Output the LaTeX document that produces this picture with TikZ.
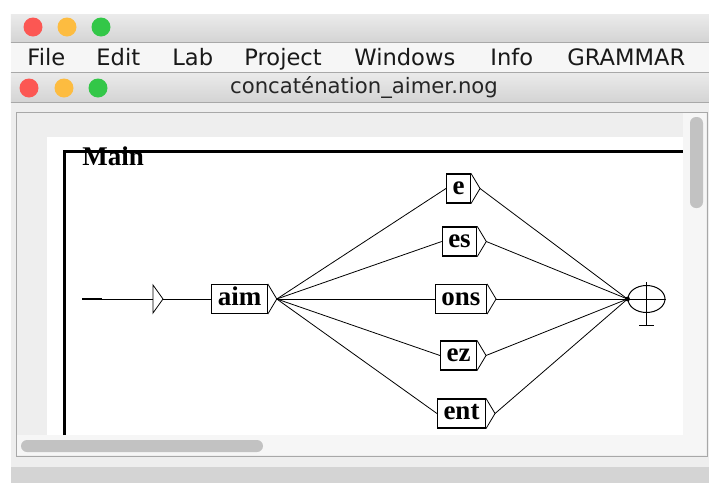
\documentclass[tikz,border=0pt]{standalone}
\usepackage{fontspec}
\newfontfamily\uifont{DejaVu Sans}
\newfontfamily\grafont{Liberation Serif}
\usetikzlibrary{positioning,calc,shapes.geometric}
\definecolor{barTop}{HTML}{EBEBEB}
\definecolor{barBot}{HTML}{D4D4D4}
\definecolor{menuBg}{HTML}{F6F6F6}
\definecolor{paneBg}{HTML}{EEEEEE}
\definecolor{edgeGray}{HTML}{A8A8A8}
\definecolor{thumbGray}{HTML}{C2C2C2}
\definecolor{macRed}{HTML}{FC5753}
\definecolor{macYellow}{HTML}{FDBC40}
\definecolor{macGreen}{HTML}{33C748}

\begin{document}
\begin{tikzpicture}[x=0.5pt,y=-0.5pt,
    menu/.style={anchor=base west,inner sep=0,text=black!90,font=\uifont\fontsize{11.3}{13}\selectfont},
    light/.style={circle,minimum size=9.5pt,inner sep=0},
    box/.style={draw,line width=0.55pt,inner xsep=3pt,inner ysep=0,minimum height=14.5pt,
        text height=9pt,text depth=2.8pt,font=\grafont\bfseries\fontsize{13.5}{15}\selectfont},
    wire/.style={line width=0.4pt}]
    \useasboundingbox (0,0) rectangle (709,483);
    \fill[white] (0,0) rectangle (709,483);
    % window chrome
    \shade[top color=barTop,bottom color=barBot] (11,14) rectangle (709,42);
    \fill[menuBg] (11,42) rectangle (709,72);
    \draw[edgeGray] (11,42) -- (709,42);
    \shade[top color=barTop,bottom color=barBot] (11,72) rectangle (709,102);
    \draw[edgeGray] (11,72) -- (709,72) (11,102) -- (709,102);
    \fill[paneBg] (11,103) rectangle (709,467);
    \draw[edgeGray,fill=paneBg] (16,112) rectangle (707,456);
    \fill[white] (47,137) rectangle (683,435);
    \fill[menuBg] (17,435) rectangle (683,455);
    \fill[thumbGray,rounded corners=3pt] (21,440) rectangle (263,452);
    \fill[menuBg] (683,113) rectangle (706,455);
    \fill[thumbGray,rounded corners=3pt] (690,117) rectangle (703,208);
    \fill[barBot] (11,467) rectangle (709,483);
    \node[light,fill=macRed] (r1) at (33,27) {};
    \node[light,fill=macYellow] (y1) at (67,27) {};
    \node[light,fill=macGreen] (g1) at (101,27) {};
    \node[light,fill=macRed] (r2) at (29,88) {};
    \node[light,fill=macYellow] (y2) at (64,88) {};
    \node[light,fill=macGreen] (g2) at (98,88) {};
    \node[menu] (mFile) at (27,65) {File};
    \node[menu] (mEdit) at (96,65) {Edit};
    \node[menu] (mLab) at (172,65) {Lab};
    \node[menu] (mProject) at (244,65) {Project};
    \node[menu] (mWindows) at (354,65) {Windows};
    \node[menu] (mInfo) at (490,65) {Info};
    \node[menu] (mGrammar) at (567,65) {GRAMMAR};
    \node[inner sep=0,text=black!85,font=\uifont\fontsize{10.6}{12}\selectfont] (title) at (364,88) {concaténation\_aimer.nog};
    % graph frame
    \draw[line width=1.5pt] (64,435) -- (64,151) -- (683,151);
    \node[anchor=base west,inner sep=0,font=\grafont\bfseries\fontsize{13.5}{15}\selectfont] (main) at (82,165) {Main};
    % initial state
    \coordinate (ini) at (82,299);
    \coordinate (st) at (153,299);
    \coordinate (st-o) at (163,299);
    \draw[line width=1.2pt] (ini) -- ++(20,0);
    \draw[wire] (ini) -- (st);
    \draw[wire] (st) ++(0,-14) -- (st-o) -- ++(-10,14) -- cycle;
    % boxes
    \node[box] (aim) at (239.5,299) {aim};
    \node[box] (e) at (458.5,188.5) {e};
    \node[box] (es) at (459.5,241.5) {es};
    \node[box] (ons) at (461,299) {ons};
    \node[box] (ez) at (458.5,355.5) {ez};
    \node[box] (ent) at (461.5,413.5) {ent};
    \draw[wire] (aim.north east) -- ([xshift=4.5pt]aim.east) coordinate (aim-o) -- (aim.south east);
    \draw[wire] (e.north east) -- ([xshift=4.5pt]e.east) coordinate (e-o) -- (e.south east);
    \draw[wire] (es.north east) -- ([xshift=4.5pt]es.east) coordinate (es-o) -- (es.south east);
    \draw[wire] (ons.north east) -- ([xshift=4.5pt]ons.east) coordinate (ons-o) -- (ons.south east);
    \draw[wire] (ez.north east) -- ([xshift=4.5pt]ez.east) coordinate (ez-o) -- (ez.south east);
    \draw[wire] (ent.north east) -- ([xshift=4.5pt]ent.east) coordinate (ent-o) -- (ent.south east);
    % final state
    \node[ellipse,draw,line width=0.5pt,minimum width=18.5pt,minimum height=13.5pt,inner sep=0] (fin) at (646.5,299) {};
    \draw[wire] (fin.west) -- (fin.east);
    \draw[wire] ([yshift=1.5pt]fin.north) -- ++(0,43) coordinate (fin-b);
    \draw[wire] ([xshift=-3.75pt]fin-b) -- ([xshift=3.75pt]fin-b);
    % transitions
    \draw[wire] (st-o) -- (aim);
    \draw[wire] (aim-o) -- (e.west);
    \draw[wire] (aim-o) -- (es.west);
    \draw[wire] (aim-o) -- (ons.west);
    \draw[wire] (aim-o) -- (ez.west);
    \draw[wire] (aim-o) -- (ent.west);
    \draw[wire] (e-o) -- (fin.west);
    \draw[wire] (es-o) -- (fin.west);
    \draw[wire] (ons-o) -- (fin.west);
    \draw[wire] (ez-o) -- (fin.west);
    \draw[wire] (ent-o) -- (fin.west);
    \fill (fin.west) circle (1.2pt);
\end{tikzpicture}
\end{document}
